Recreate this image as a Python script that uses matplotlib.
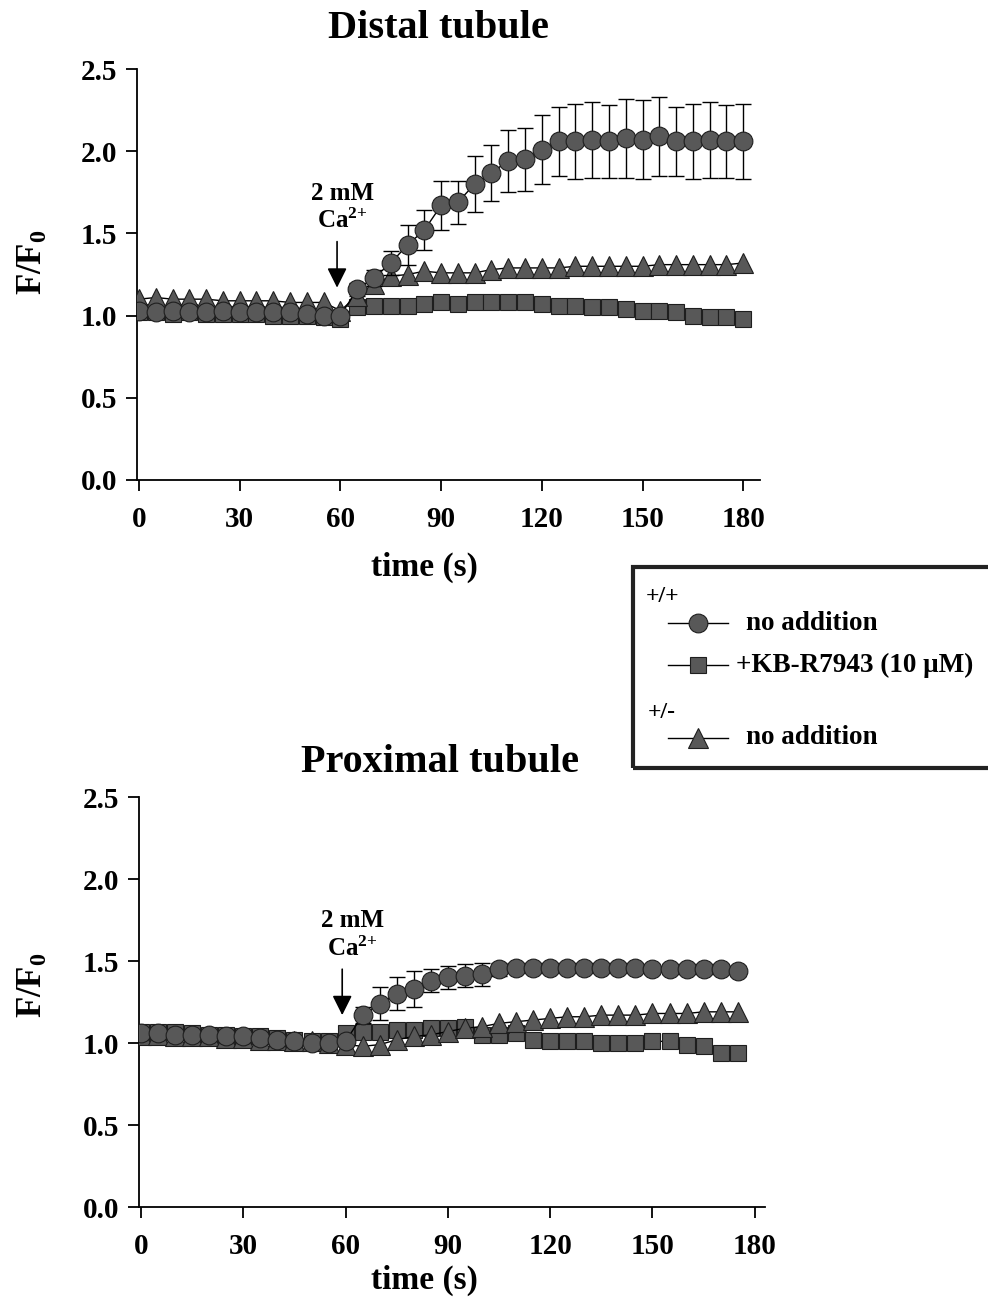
import numpy as np
import matplotlib
matplotlib.use("Agg")
import matplotlib.pyplot as plt
from matplotlib.lines import Line2D
from matplotlib.patches import Rectangle

plt.rcParams['font.family'] = ['Liberation Serif', 'DejaVu Serif']
plt.rcParams['font.weight'] = 'bold'
plt.rcParams['mathtext.fontset'] = 'custom'
plt.rcParams['mathtext.rm'] = 'Liberation Serif:bold'
plt.rcParams['mathtext.it'] = 'Liberation Serif:bold'
plt.rcParams['mathtext.bf'] = 'Liberation Serif:bold'

# ---- data ----
t_distal = np.arange(0, 181, 5)
distal_wt = [1.03, 1.02, 1.03, 1.02, 1.02, 1.03, 1.02, 1.02, 1.02, 1.02, 1.01, 1.00,
             1.00, 1.16, 1.23, 1.32, 1.43, 1.52, 1.67, 1.69, 1.80, 1.87, 1.94, 1.95,
             2.01, 2.06, 2.06, 2.07, 2.06, 2.08, 2.07, 2.09, 2.06, 2.06, 2.07, 2.06, 2.06]
distal_wt_err = [0.02, 0.02, 0.02, 0.02, 0.02, 0.02, 0.02, 0.02, 0.02, 0.02, 0.02, 0.02,
                 0.02, 0.04, 0.05, 0.07, 0.12, 0.12, 0.15, 0.13, 0.17, 0.17, 0.19, 0.19,
                 0.21, 0.21, 0.23, 0.23, 0.22, 0.24, 0.24, 0.24, 0.21, 0.23, 0.23, 0.22, 0.23]
distal_kb = [1.02, 1.02, 1.01, 1.02, 1.01, 1.01, 1.01, 1.01, 1.00, 1.00, 1.00, 0.99,
             0.98, 1.05, 1.06, 1.06, 1.06, 1.07, 1.08, 1.07, 1.08, 1.08, 1.08, 1.08,
             1.07, 1.06, 1.06, 1.05, 1.05, 1.04, 1.03, 1.03, 1.02, 1.00, 0.99, 0.99, 0.98]
distal_het = [1.10, 1.11, 1.10, 1.10, 1.10, 1.09, 1.09, 1.09, 1.09, 1.08, 1.08, 1.08,
              1.03, 1.12, 1.19, 1.24, 1.25, 1.27, 1.26, 1.26, 1.26, 1.28, 1.29, 1.29,
              1.29, 1.29, 1.30, 1.30, 1.30, 1.30, 1.30, 1.31, 1.31, 1.31, 1.31, 1.31, 1.32]

t_prox = np.arange(0, 176, 5)
prox_wt = [1.06, 1.06, 1.05, 1.05, 1.05, 1.04, 1.04, 1.03, 1.02, 1.01, 1.00, 1.00,
           1.01, 1.17, 1.24, 1.30, 1.33, 1.38, 1.40, 1.41, 1.42, 1.45, 1.46, 1.46,
           1.46, 1.46, 1.46, 1.46, 1.46, 1.46, 1.45, 1.45, 1.45, 1.45, 1.45, 1.44]
prox_wt_err = [0.02, 0.02, 0.02, 0.02, 0.02, 0.02, 0.02, 0.02, 0.02, 0.02, 0.02, 0.02,
               0.02, 0.05, 0.10, 0.10, 0.11, 0.07, 0.07, 0.07, 0.07, 0.04, 0.03, 0.03,
               0.03, 0.03, 0.03, 0.03, 0.03, 0.03, 0.03, 0.03, 0.03, 0.03, 0.03, 0.03]
prox_kb = [1.07, 1.07, 1.07, 1.06, 1.05, 1.05, 1.04, 1.04, 1.03, 1.02, 1.01, 1.01,
           1.06, 1.07, 1.07, 1.08, 1.08, 1.09, 1.09, 1.10, 1.05, 1.05, 1.06, 1.02,
           1.01, 1.01, 1.01, 1.00, 1.00, 1.00, 1.01, 1.01, 0.99, 0.98, 0.94, 0.94]
prox_het = [1.05, 1.05, 1.04, 1.04, 1.04, 1.03, 1.03, 1.02, 1.02, 1.01, 1.01, 1.00,
            0.99, 0.98, 0.99, 1.02, 1.04, 1.05, 1.07, 1.09, 1.10, 1.12, 1.13, 1.14,
            1.15, 1.16, 1.16, 1.17, 1.17, 1.17, 1.18, 1.18, 1.18, 1.19, 1.19, 1.19]

xticks = [0, 30, 60, 90, 120, 150, 180]
yticks = [0.0, 0.5, 1.0, 1.5, 2.0, 2.5]

FACE = '#585858'
EDGE = '#1e1e1e'
MS_CIRCLE, MS_SQUARE, MS_TRI = 13.5, 11, 14

fig = plt.figure(figsize=(9.88, 13.08), dpi=100)
W, H = 988.0, 1308.0


def fx(px):
    return px / W


def fy(py):
    return 1 - py / H


def draw_panel(ax, t, wt, wt_err, kb, het, xmax, arrow_t, text_t):
    ax.plot(t, kb, '-', color='black', lw=1.0, marker='s', ms=MS_SQUARE,
            mfc=FACE, mec=EDGE, mew=0.8, zorder=3)
    ax.plot(t, het, '-', color='black', lw=1.0, marker='^', ms=MS_TRI,
            mfc=FACE, mec=EDGE, mew=0.8, zorder=4)
    ax.errorbar(t, wt, yerr=wt_err, fmt='none', ecolor='black', elinewidth=1.0,
                capsize=5.5, capthick=1.0, zorder=5)
    ax.plot(t, wt, '-', color='black', lw=1.0, marker='o', ms=MS_CIRCLE,
            mfc=FACE, mec=EDGE, mew=0.8, zorder=6)

    ax.set_xlim(-0.6, xmax)
    ax.set_ylim(0, 2.5)
    ax.set_xticks(xticks)
    ax.set_yticks(yticks)
    ax.set_yticklabels(['%.1f' % v for v in yticks])
    for s in ['top', 'right']:
        ax.spines[s].set_visible(False)
    for s in ['left', 'bottom']:
        ax.spines[s].set_linewidth(1.3)
    ax.tick_params(axis='both', direction='out', length=8, width=1.3,
                   labelsize=21)
    ax.tick_params(axis='x', pad=11)
    ax.tick_params(axis='y', pad=6)
    for lab in ax.get_xticklabels() + ax.get_yticklabels():
        lab.set_fontweight('bold')

    ax.annotate('', xy=(arrow_t, 1.17), xytext=(arrow_t, 1.45),
                arrowprops=dict(arrowstyle='-|>', color='black', lw=1.2,
                                mutation_scale=30, shrinkA=0, shrinkB=0))
    ax.text(text_t, 1.745, '2 mM', ha='center', va='center', fontsize=18,
            fontweight='bold')
    ax.text(text_t, 1.575, r'Ca$^{2{+}}$', ha='center', va='center', fontsize=18,
            fontweight='bold')


ax1 = fig.add_axes([fx(137), fy(480), fx(760) - fx(137), fy(69) - fy(480)])
draw_panel(ax1, t_distal, distal_wt, distal_wt_err, distal_kb, distal_het,
           185, 59, 60.5)

ax2 = fig.add_axes([fx(139), fy(1207), fx(765) - fx(139), fy(797) - fy(1207)])
draw_panel(ax2, t_prox, prox_wt, prox_wt_err, prox_kb, prox_het,
           183, 59, 62)

# titles and axis labels
fig.text(fx(438), fy(38), 'Distal tubule', ha='center', va='baseline',
         fontsize=29, fontweight='bold')
fig.text(fx(440), fy(772), 'Proximal tubule', ha='center', va='baseline',
         fontsize=29, fontweight='bold')
fig.text(fx(424), fy(567), 'time (s)', ha='center', va='center',
         fontsize=24, fontweight='bold')
fig.text(fx(424), fy(1280), 'time (s)', ha='center', va='center',
         fontsize=24, fontweight='bold')
fig.text(fx(33), fy(262), r'$\mathrm{F/F_0}$', rotation=90, ha='center',
         va='center', fontsize=25)
fig.text(fx(33), fy(985), r'$\mathrm{F/F_0}$', rotation=90, ha='center',
         va='center', fontsize=25)

# legend box
box = Rectangle((fx(633), fy(768)), fx(1000) - fx(633), fy(567) - fy(768),
                transform=fig.transFigure, fill=False, lw=3, ec='#222222',
                clip_on=False)
fig.add_artist(box)

fig.text(fx(646), fy(597), '+/+', ha='left', va='center', fontsize=17,
         fontweight='bold')
fig.text(fx(648), fy(713), '+/-', ha='left', va='center', fontsize=17,
         fontweight='bold')
legend_rows = [('o', MS_CIRCLE, 623, 'no addition', 746),
               ('s', MS_SQUARE, 665, '+KB-R7943 (10 \u03bcM)', 736),
               ('^', MS_TRI, 738, 'no addition', 746)]
for mk, ms, py, label, tx in legend_rows:
    fig.add_artist(Line2D([fx(668), fx(728)], [fy(py), fy(py)],
                          transform=fig.transFigure, color='black', lw=1.0))
    fig.add_artist(Line2D([fx(698)], [fy(py)], transform=fig.transFigure,
                          marker=mk, ms=ms, mfc=FACE, mec=EDGE, mew=0.8,
                          linestyle='none'))
    fig.text(fx(tx), fy(py), label, ha='left', va='center', fontsize=19.5,
             fontweight='bold')

fig.savefig('out.png', dpi=100)
